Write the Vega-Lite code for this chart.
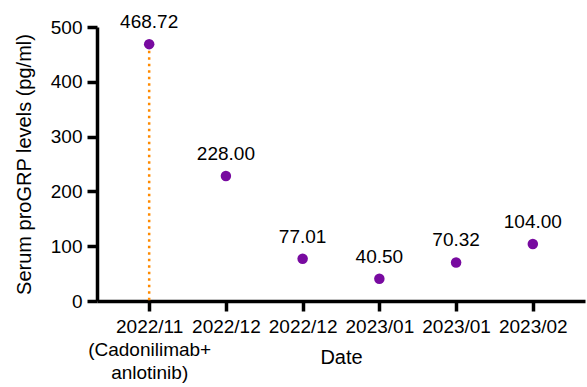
{
  "$schema": "https://vega.github.io/schema/vega-lite/v6.json",
  "width": 488,
  "height": 274,
  "autosize": {"type": "none"},
  "padding": {"left": 97, "top": 27, "right": 2, "bottom": 86},
  "background": "white",
  "config": {
    "view": {"stroke": null},
    "font": "Liberation Sans",
    "axis": {"grid": false}
  },
  "data": {
    "values": [
      {"id": "a", "date": "2022/11", "value": 468.72, "label": "468.72", "base": 0},
      {"id": "b", "date": "2022/12", "value": 228.0, "label": "228.00", "base": 0},
      {"id": "c", "date": "2022/12", "value": 77.01, "label": "77.01", "base": 0},
      {"id": "d", "date": "2023/01", "value": 40.5, "label": "40.50", "base": 0},
      {"id": "e", "date": "2023/01", "value": 70.32, "label": "70.32", "base": 0},
      {"id": "f", "date": "2023/02", "value": 104.0, "label": "104.00", "base": 0}
    ]
  },
  "encoding": {
    "x": {
      "field": "id",
      "type": "nominal",
      "sort": null,
      "scale": {"type": "point", "padding": 0.68},
      "axis": {
        "title": "Date",
        "titleFontSize": 20,
        "titleFontWeight": "normal",
        "titleColor": "black",
        "titleY": 62,
        "titleBaseline": "alphabetic",
        "labelExpr": "datum.value == 'a' ? ['2022/11', '(Cadonilimab+', 'anlotinib)'] : datum.value == 'b' ? '2022/12' : datum.value == 'c' ? '2022/12' : datum.value == 'd' ? '2023/01' : datum.value == 'e' ? '2023/01' : '2023/02'",
        "labelAngle": 0,
        "labelFontSize": 19,
        "labelColor": "black",
        "labelLineHeight": 23,
        "labelPadding": 6,
        "domainColor": "black",
        "domainWidth": 3.5,
        "tickColor": "black",
        "tickWidth": 3.5,
        "tickSize": 10
      }
    },
    "y": {
      "field": "value",
      "type": "quantitative",
      "scale": {"domain": [0, 500], "nice": false},
      "axis": {
        "title": "Serum proGRP levels (pg/ml)",
        "titleFontSize": 20,
        "titleFontWeight": "normal",
        "titleColor": "black",
        "titlePadding": 16,
        "values": [0, 100, 200, 300, 400, 500],
        "labelFontSize": 19,
        "labelColor": "black",
        "labelPadding": 5,
        "domainColor": "black",
        "domainWidth": 3.5,
        "tickColor": "black",
        "tickWidth": 3.5,
        "tickSize": 10
      }
    }
  },
  "layer": [
    {
      "mark": {"type": "rule", "color": "#ff8a00", "strokeWidth": 2.5, "strokeDash": [2.5, 4]},
      "transform": [{"filter": "datum.id == 'a'"}],
      "encoding": {
        "y2": {"field": "base"}
      }
    },
    {
      "mark": {"type": "point", "filled": true, "size": 110, "opacity": 1, "color": "#780aa0"},
      "encoding": {}
    },
    {
      "mark": {"type": "text", "fontSize": 19, "dy": -22, "color": "black"},
      "encoding": {
        "text": {"field": "label"}
      }
    }
  ]
}
